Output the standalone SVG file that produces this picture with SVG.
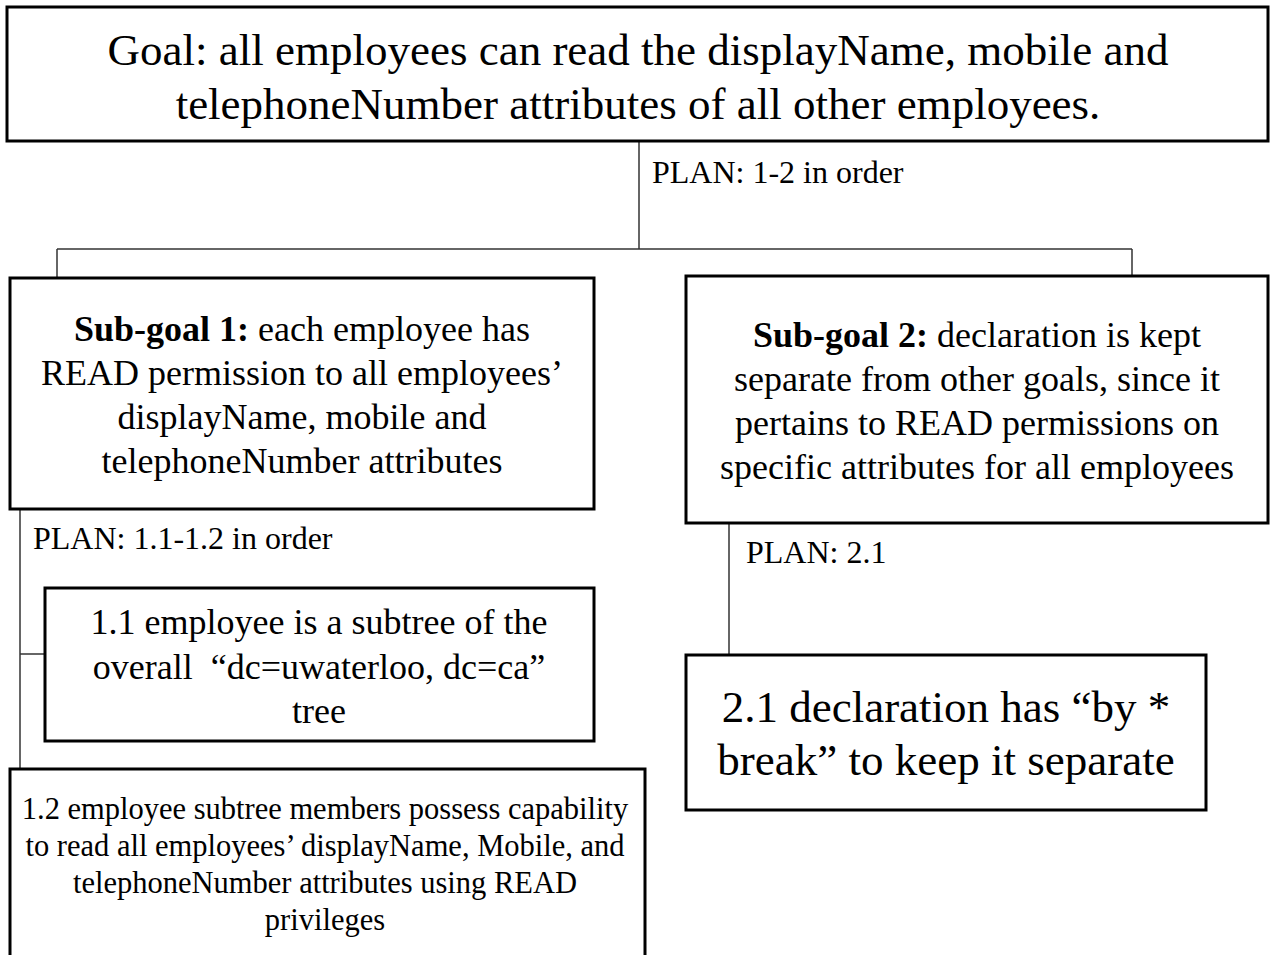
<svg xmlns="http://www.w3.org/2000/svg" width="1274" height="955" viewBox="0 0 1274 955">
<style>
.box{fill:#fff;stroke:#000;stroke-width:3}
.conn line{stroke:#333;stroke-width:1.5}
text{font-family:"Liberation Serif","Times New Roman",serif;fill:#000}
.c{text-anchor:middle}
.g{font-size:45px}
.s{font-size:36px}
.p{font-size:32px}
.t{font-size:30.5px}
.b{font-weight:bold}
</style>
<rect width="1274" height="955" fill="#fff"/>
<g id="connectors" class="conn">
<line x1="639" y1="140" x2="639" y2="249"/>
<line x1="57" y1="249" x2="1132" y2="249"/>
<line x1="57" y1="249" x2="57" y2="278"/>
<line x1="1132" y1="249" x2="1132" y2="277"/>
<line x1="20" y1="509" x2="20" y2="769"/>
<line x1="20" y1="654" x2="45" y2="654"/>
<line x1="729" y1="523" x2="729" y2="655"/>
</g>
<g id="plan-labels">
<text class="p" x="652" y="183">PLAN: 1-2 in order</text>
<text class="p" x="33" y="549">PLAN: 1.1-1.2 in order</text>
<text class="p" x="746" y="563">PLAN: 2.1</text>
</g>
<g id="goal">
<rect class="box" x="7" y="7" width="1261" height="134"/>
<text class="g c" x="638" y="65">Goal: all employees can read the displayName, mobile and</text>
<text class="g c" x="638" y="119">telephoneNumber attributes of all other employees.</text>
</g>
<g id="subgoal1">
<rect class="box" x="10" y="278" width="584" height="231"/>
<text class="s c" x="302" y="341"><tspan class="b">Sub-goal 1:</tspan> each employee has</text>
<text class="s c" x="302" y="385">READ permission to all employees’</text>
<text class="s c" x="302" y="429">displayName, mobile and</text>
<text class="s c" x="302" y="473">telephoneNumber attributes</text>
</g>
<g id="subgoal2">
<rect class="box" x="686" y="276" width="582" height="247"/>
<text class="s c" x="977" y="347"><tspan class="b">Sub-goal 2:</tspan> declaration is kept</text>
<text class="s c" x="977" y="391">separate from other goals, since it</text>
<text class="s c" x="977" y="435">pertains to READ permissions on</text>
<text class="s c" x="977" y="479">specific attributes for all employees</text>
</g>
<g id="task1-1">
<rect class="box" x="45" y="588" width="549" height="153"/>
<text class="s c" x="319" y="634">1.1 employee is a subtree of the</text>
<text class="s c" x="319" y="679" xml:space="preserve">overall  “dc=uwaterloo, dc=ca”</text>
<text class="s c" x="319" y="723">tree</text>
</g>
<g id="task1-2">
<rect class="box" x="10" y="769" width="635" height="200"/>
<text class="t c" x="325" y="819">1.2 employee subtree members possess capability</text>
<text class="t c" x="325" y="856">to read all employees’ displayName, Mobile, and</text>
<text class="t c" x="325" y="893">telephoneNumber attributes using READ</text>
<text class="t c" x="325" y="930">privileges</text>
</g>
<g id="task2-1">
<rect class="box" x="686" y="655" width="520" height="155"/>
<text class="g c" x="946" y="722">2.1 declaration has “by *</text>
<text class="g c" x="946" y="775">break” to keep it separate</text>
</g>
</svg>
